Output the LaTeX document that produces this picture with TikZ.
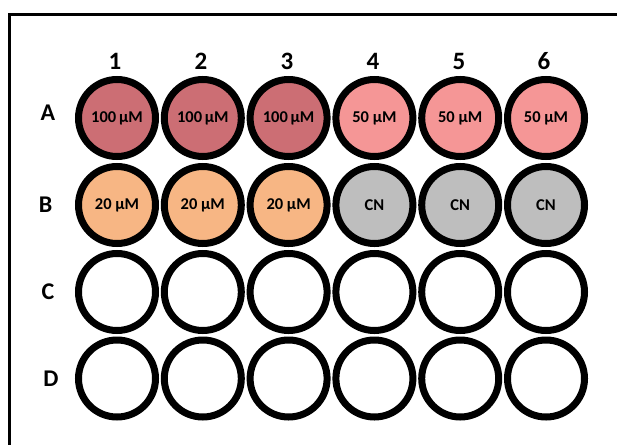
\documentclass[tikz,border=0pt]{standalone}
\usepackage{fontspec}
\setmainfont{Carlito}
\definecolor{cHundred}{RGB}{204,110,116}
\definecolor{cFifty}{RGB}{245,150,150}
\definecolor{cTwenty}{RGB}{247,182,132}
\definecolor{cCN}{RGB}{190,190,190}
\tikzset{
  well/.style={circle, draw=black, line width=7pt, minimum size=77pt, inner sep=0pt,
    font=\fontsize{16.5}{16.5}\selectfont\bfseries},
  collabel/.style={font=\fontsize{25}{25}\selectfont\bfseries, inner sep=0pt},
  rowlabel/.style={font=\fontsize{24}{24}\selectfont\bfseries, inner sep=0pt},
  frame/.style={line width=3pt, draw=black}
}
\begin{document}
\begin{tikzpicture}[x=1pt,y=-1pt]
\useasboundingbox (0,0) rectangle (617,444);
\clip (0,0) rectangle (617,444);
\fill[white] (0,0) rectangle (617,444);
\coordinate (fBL) at (9.5,460);
\coordinate (fTL) at (9.5,15);
\coordinate (fTR) at (640,15);
\draw[frame] (fBL) -- (fTL) -- (fTR);
% column labels
\foreach \i/\x in {1/115,2/201,3/287,4/373,5/459,6/544}
  \node[collabel] (col\i) at (\x,61) {\i};
% row labels
\node[rowlabel] (rowA) at (48,113) {A};
\node[rowlabel] (rowB) at (45.5,205) {B};
\node[rowlabel] (rowC) at (48,292) {C};
\node[rowlabel] (rowD) at (51,379) {D};
% wells
\foreach \i/\x in {1/117,2/202.8,3/288.6} {
  \node[well, fill=cHundred] (A\i) at (\x,118) {100\,µM};
  \node[well, fill=cTwenty] (B\i) at (\x,205) {20 µM};
}
\foreach \i/\x in {4/374.4,5/460.2,6/546} {
  \node[well, fill=cFifty] (A\i) at (\x,118) {50 µM};
  \node[well, fill=cCN] (B\i) at (\x,205) {CN};
}
\foreach \i/\x in {1/117,2/202.8,3/288.6,4/374.4,5/460.2,6/546} {
  \node[well, fill=white] (C\i) at (\x,292) {};
  \node[well, fill=white] (D\i) at (\x,378.5) {};
}
\end{tikzpicture}
\end{document}
